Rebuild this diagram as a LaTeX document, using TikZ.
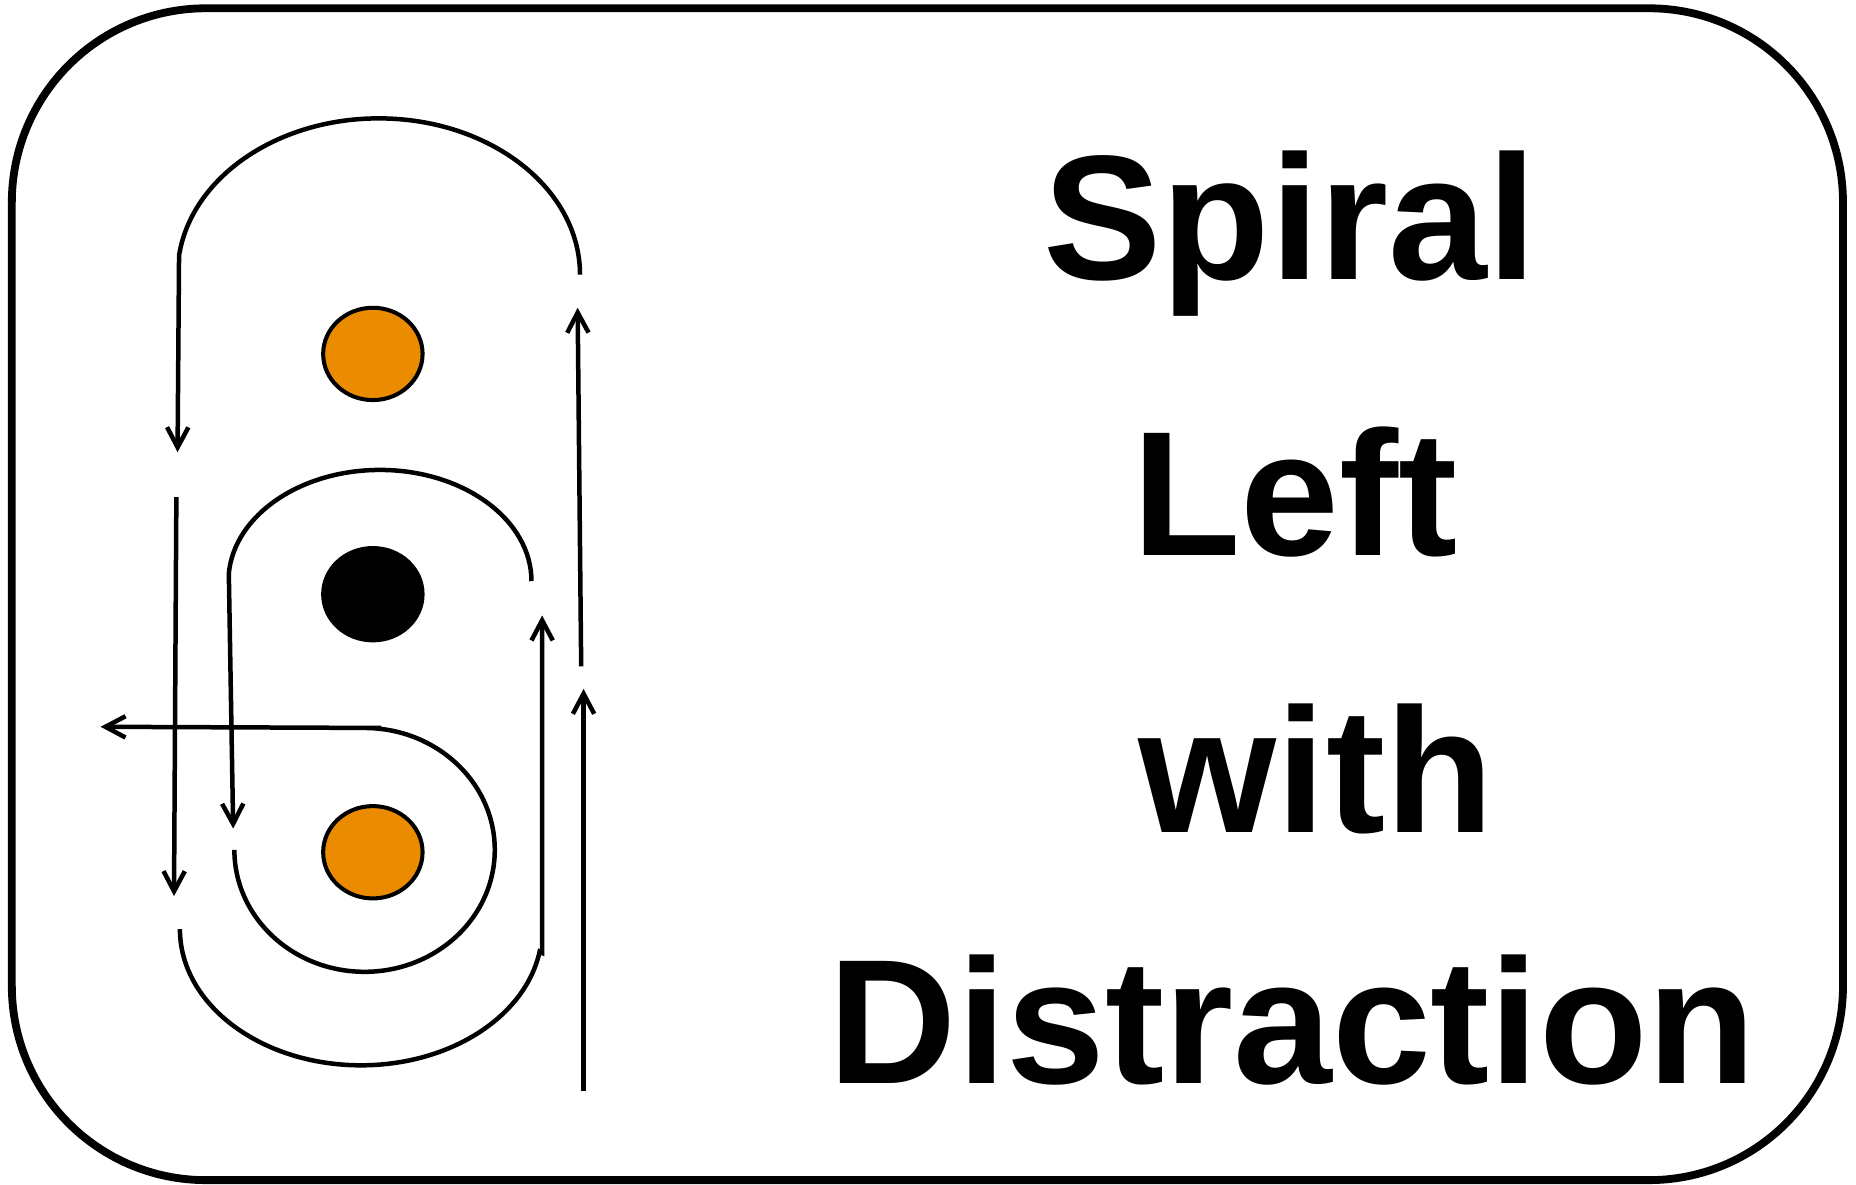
\documentclass[tikz,border=0pt]{standalone}
\usepackage{fontspec}
\setmainfont{Liberation Sans}
\usetikzlibrary{arrows.meta,shapes.geometric}
\definecolor{dotorange}{RGB}{234,139,0}
\begin{document}
\begin{tikzpicture}[x=0.5pt,y=-0.5pt,
  flow/.style={line width=1.9pt,-{Straight Barb[length=8.5pt,width=9pt,line width=1.9pt]}},
  dot/.style={ellipse,draw=black,line width=1.7pt,minimum width=42pt,minimum height=39pt,inner sep=0pt},
  lbl/.style={font=\fontsize{75}{80}\selectfont\bfseries,anchor=base,inner sep=0pt}]
\useasboundingbox (0,0) rectangle (1568,1001);
\draw[line width=3.3pt,rounded corners=82pt] (10,7) rectangle (1557,997);
% dots
\node[dot,fill=dotorange] (o1) at (315,299) {};
\node[dot,fill=black] (b1) at (315,502) {};
\node[dot,fill=dotorange] (o2) at (315,720) {};
% outer top loop: up right side, over, down left
\coordinate (r1s) at (491,563);
\coordinate (r1e) at (488,260);
\draw[flow] (r1s) -- (r1e);
\coordinate (a1) at (490,232);
\coordinate (l1e) at (150,382);
\draw[flow] (a1) arc[start angle=0,end angle=-173,x radius=170,y radius=132] -- (l1e);
% long left down
\coordinate (l2s) at (149,420);
\coordinate (l2e) at (147,757);
\draw[flow] (l2s) -- (l2e);
% bottom outer arc, up to inner right arrow
\coordinate (a3) at (152,785);
\coordinate (r2e) at (458,520);
\draw[flow] (a3) arc[start angle=180,end angle=9.5,x radius=153,y radius=115] -- (458,805) -- (r2e);
% second arc
\coordinate (a2) at (449,491);
\coordinate (l3e) at (197,700);
\draw[flow] (a2) arc[start angle=0,end angle=-176,x radius=128,y radius=94] -- (l3e);
% inner loop to left arrow
\coordinate (a4) at (198,718);
\coordinate (h1e) at (85,614);
\draw[flow] (a4) arc[start angle=180,end angle=-90,x radius=110,y radius=103] -- (322,615) -- (h1e);
% far right long arrow
\coordinate (r3s) at (493,922);
\coordinate (r3e) at (493,582);
\draw[flow] (r3s) -- (r3e);
% text
\node[lbl] (t1) at (1090,236) {Spiral};
\node[lbl] (t2) at (1094,469) {Left};
\node[lbl] (t3) at (1112,703) {with};
\node[lbl] (t4) at (1092,915) {Distraction};
\end{tikzpicture}
\end{document}
